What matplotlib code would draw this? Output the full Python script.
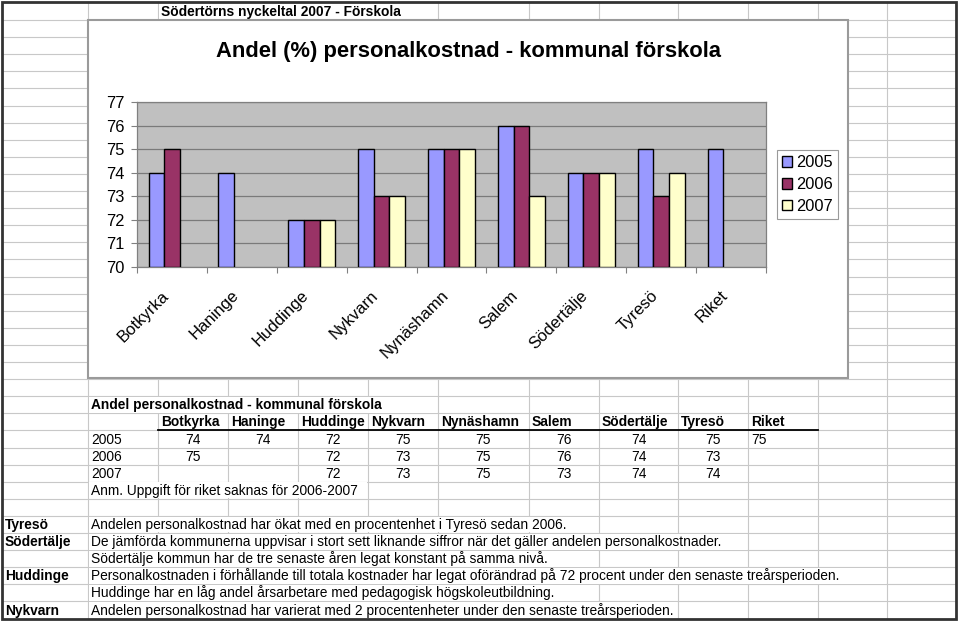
import numpy as np
import matplotlib
matplotlib.use("Agg")
import matplotlib.pyplot as plt
from matplotlib.patches import Rectangle
from matplotlib.transforms import ScaledTranslation

plt.rcParams['font.family'] = ['Liberation Sans', 'DejaVu Sans']

# Data
kommuner = ["Botkyrka", "Haninge", "Huddinge", "Nykvarn", "Nynäshamn",
            "Salem", "Södertälje", "Tyresö", "Riket"]
years = ["2005", "2006", "2007"]
v2005 = [74, 74, 72, 75, 75, 76, 74, 75, 75]
v2006 = [75, None, 72, 73, 75, 76, 74, 73, None]
v2007 = [None, None, 72, 73, 75, 73, 74, 74, None]
series = [v2005, v2006, v2007]
colors = ["#9999FF", "#993366", "#FFFFCC"]

sheet_title = "Södertörns nyckeltal 2007 - Förskola"
chart_title = "Andel (%) personalkostnad - kommunal förskola"
table_title = "Andel personalkostnad - kommunal förskola"
note = "Anm. Uppgift för riket saknas för 2006-2007"
comment_labels = ["Tyresö", "Södertälje", "", "Huddinge", "", "Nykvarn"]
comments = [
    "Andelen personalkostnad har ökat med en procentenhet i Tyresö sedan 2006.",
    "De jämförda kommunerna uppvisar i stort sett liknande siffror när det gäller andelen personalkostnader.",
    "Södertälje kommun har de tre senaste åren legat konstant på samma nivå.",
    "Personalkostnaden i förhållande till totala kostnader har legat oförändrad på 72 procent under den senaste treårsperioden.",
    "Huddinge har en låg andel årsarbetare med pedagogisk högskoleutbildning.",
    "Andelen personalkostnad har varierat med 2 procentenheter under den senaste treårsperioden.",
]

W, H = 960, 622
fig = plt.figure(figsize=(W / 100, H / 100), dpi=100)
fig.patch.set_facecolor("white")

# spreadsheet background, pixel coordinates
bg = fig.add_axes([0, 0, 1, 1])
bg.set_xlim(0, W)
bg.set_ylim(H, 0)
bg.axis("off")

col_x = [2, 88, 158, 228, 298, 368, 438, 529, 599, 678, 748, 818, 887, 956]
row_y = [2] + [20 + 17.1 * k for k in range(36)]
grid_c = "#c8c8c8"

for x in col_x[1:-1]:
    bg.plot([x, x], [row_y[0], row_y[-1]], color=grid_c, lw=0.8, zorder=1)
for y in row_y[1:-1]:
    bg.plot([col_x[0], col_x[-1]], [y, y], color=grid_c, lw=0.8, zorder=1)
bg.add_patch(Rectangle((col_x[0], row_y[0]), col_x[-1] - col_x[0], row_y[-1] - row_y[0],
                       fill=False, edgecolor="#333333", lw=2, zorder=6))

renderer = fig.canvas.get_renderer()
fs = 9.9


def cell_text(col, row, s, bold=False, ha="left"):
    x0, x1 = col_x[col], col_x[col + 1]
    yb = row_y[row + 1] - 4
    if ha == "center":
        t = bg.text((x0 + x1) / 2, yb, s, ha="center", va="baseline",
                    fontsize=fs, fontweight="bold" if bold else "normal", zorder=3)
        return t
    t = bg.text(x0 + 3, yb, s, ha="left", va="baseline", fontsize=fs,
                fontweight="bold" if bold else "normal", zorder=3)
    end = x0 + 3 + t.get_window_extent(renderer).width
    if end > x1:
        b = next(i for i, cx in enumerate(col_x) if cx >= end)
        bg.add_patch(Rectangle((x0 + 0.6, row_y[row] + 0.6), col_x[b] - x0 - 1.2,
                               row_y[row + 1] - row_y[row] - 1.2,
                               facecolor="white", edgecolor="none", zorder=2))
    return t


cell_text(2, 0, sheet_title, bold=True)

# table under the chart
cell_text(1, 23, table_title, bold=True)
for i, k in enumerate(kommuner):
    cell_text(i + 2, 24, k, bold=True)
bg.plot([col_x[2], col_x[11]], [row_y[25], row_y[25]], color="black", lw=1.3, zorder=3)
for j, (yr, vals) in enumerate(zip(years, series)):
    cell_text(1, 25 + j, yr)
    for i, v in enumerate(vals):
        if v is None:
            continue
        cell_text(i + 2, 25 + j, str(v), ha="left" if i == len(kommuner) - 1 else "center")
cell_text(1, 28, note)

# comments
for r, (lab, txt) in enumerate(zip(comment_labels, comments)):
    if lab:
        cell_text(0, 30 + r, lab, bold=True)
    cell_text(1, 30 + r, txt)

# chart box
bg.add_patch(Rectangle((88, 20), 760, 358, facecolor="white", edgecolor="#9a9a9a",
                       lw=1.5, zorder=4))
bg.text(469, 51, chart_title, ha="center", va="center", fontsize=15.8,
        fontweight="bold", zorder=5)

# bar chart
ax = fig.add_axes([137 / W, 1 - 267 / H, 629 / W, 165 / H])
ax.set_facecolor("#c0c0c0")
w = 0.223
for j, (yr, vals, c) in enumerate(zip(years, series, colors)):
    xs = [i + 0.5 + (j - 1) * w for i, v in enumerate(vals) if v is not None]
    hs = [v - 70 for v in vals if v is not None]
    ax.bar(xs, hs, bottom=70, width=w, color=c, edgecolor="black", lw=1.0,
           label=yr, zorder=3)

ax.set_xlim(0, len(kommuner))
ax.set_ylim(70, 77)
ax.set_yticks(range(70, 78))
ax.tick_params(axis="y", labelsize=11.8, length=4, color="#808080", pad=5)
ax.yaxis.grid(True, color="#7a7a7a", lw=0.9, zorder=1)
ax.set_axisbelow(True)

ax.set_xticks(range(len(kommuner) + 1))
ax.set_xticklabels([])
ax.tick_params(axis="x", which="major", length=4, color="#808080")
ax.set_xticks([i + 0.5 for i in range(len(kommuner))], minor=True)
ax.set_xticklabels(kommuner, minor=True, rotation=45, ha="right", va="top",
                   rotation_mode="anchor", fontsize=12)
ax.tick_params(axis="x", which="minor", length=0, pad=15)
for lbl in ax.get_xticklabels(minor=True):
    lbl.set_transform(lbl.get_transform() + ScaledTranslation(-0.11, 0, fig.dpi_scale_trans))

for s in ax.spines.values():
    s.set_color("#808080")
    s.set_linewidth(0.9)

leg = ax.legend(loc="center left", bbox_to_anchor=(777 / W, 1 - 184.5 / H),
                bbox_transform=fig.transFigure, borderaxespad=0, fontsize=11.8,
                fancybox=False, edgecolor="#9a9a9a", framealpha=1,
                handlelength=0.62, handleheight=0.62, handletextpad=0.25,
                labelspacing=0.42, borderpad=0.32)
leg.get_frame().set_linewidth(0.8)

fig.savefig("out.png", dpi=100)
